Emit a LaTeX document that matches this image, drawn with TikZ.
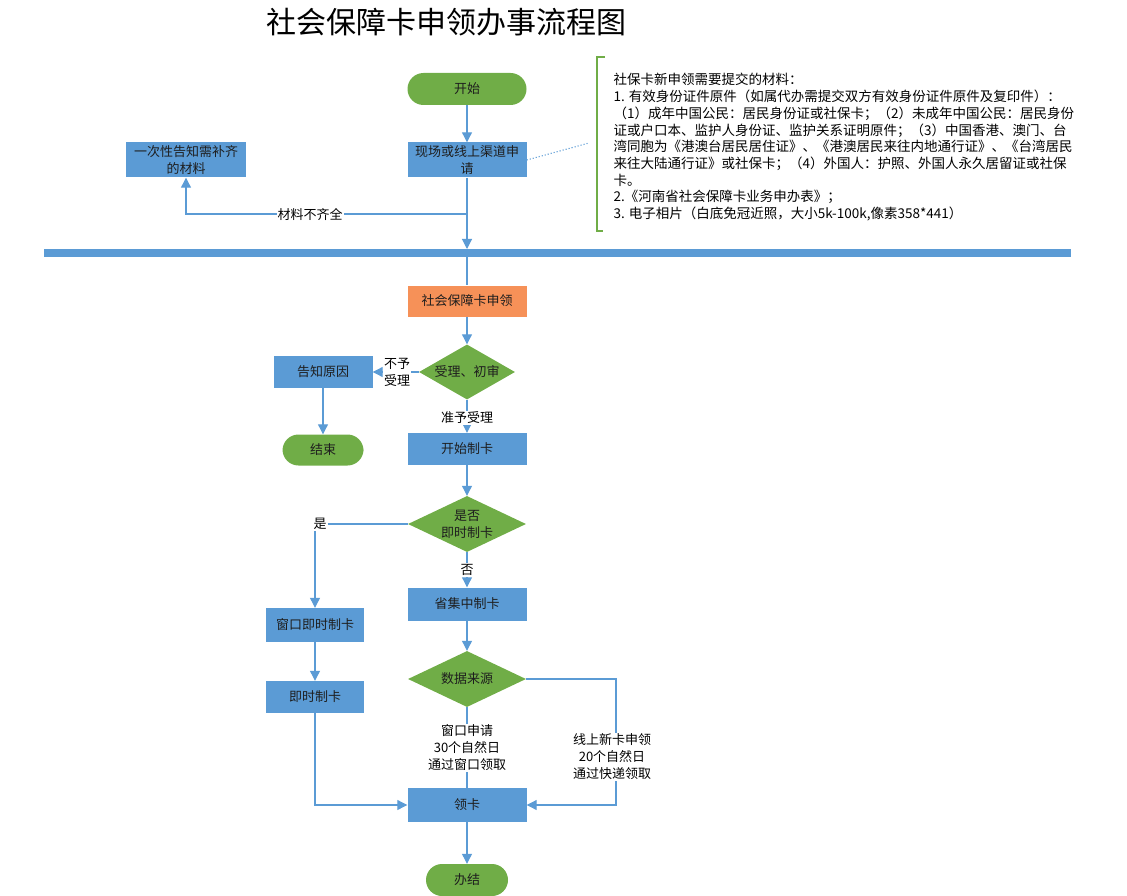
\documentclass[tikz,border=0pt]{standalone}
\usepackage{xcolor}
\usepackage{fontspec}
\usepackage{tikz}
\usetikzlibrary{shapes.geometric,arrows.meta}
\setmainfont{Noto Sans CJK SC}
\definecolor{boxblue}{RGB}{91,155,213}
\definecolor{boxgreen}{RGB}{112,173,71}
\definecolor{boxorange}{RGB}{246,145,88}
\definecolor{inktext}{RGB}{30,30,30}

\begin{document}
\begin{tikzpicture}[x=1pt, y=-1pt,
	every node/.style={font=\fontsize{13}{17}\selectfont, text=inktext},
	proc/.style={rectangle, fill=boxblue, minimum width=119pt, minimum height=33pt, inner sep=0pt, align=center},
	term/.style={rectangle, rounded corners=16pt, fill=boxgreen, minimum width=119pt, minimum height=32pt, inner sep=0pt},
	decide/.style={diamond, shape aspect=2, fill=boxgreen, minimum width=118pt, minimum height=56pt, inner sep=0pt, align=center},
	tag/.style={fill=white, inner sep=1pt, align=center, text=black},
	flow/.style={draw=boxblue, line width=1.1pt, -{Triangle[length=10pt,width=10pt]}},
	link/.style={draw=boxblue, line width=1.1pt}]
				\useasboundingbox (0,0) rectangle (1127,896);
				
				\node (title) at (446,22) [font=\fontsize{30}{34}\selectfont, text=black] {社会保障卡申领办事流程图};
				
				\node (start) at (467,89) [term] {开始};
				\node (apply) at (467,160) [proc, minimum height=35pt] {现场或线上渠道申\\请};
				\node (notify) at (186,160) [proc, minimum width=120pt, minimum height=35pt] {一次性告知需补齐\\的材料};
				\coordinate (split) at (467,214);
				\coordinate (barin) at (467,249);
				\coordinate (barout) at (467,257);
				
				\draw[boxblue, line width=8pt] (44,253) -- (1071,253);
				
				\draw[flow] (start) -- (apply);
				\draw[link] (apply) -- (split);
				\draw[flow] (split) -| (notify.south);
				\node (short) at (310,214) [tag] {材料不齐全};
				\draw[flow] (split) -- (barin);
				
				\draw[boxgreen, line width=1.1pt] (605,57) -- (597,57) -- (597,231) -- (603,231);
				\coordinate (notesin) at (589,143);
				\draw[boxblue, dotted, line width=1.1pt] (apply.east) -- (notesin);
				\node (notes) at (610,70) [anchor=north west, align=left, text=black, font=\fontsize{13.5}{16.7}\selectfont] {社保卡新申领需要提交的材料：\\
1. 有效身份证件原件（如属代办需提交双方有效身份证件原件及复印件）：\\
（1）成年中国公民：居民身份证或社保卡；（2）未成年中国公民：居民身份\\
证或户口本、监护人身份证、监护关系证明原件；（3）中国香港、澳门、台\\
湾同胞为《港澳台居民居住证》、《港澳居民来往内地通行证》、《台湾居民\\
来往大陆通行证》或社保卡；（4）外国人：护照、外国人永久居留证或社保\\
卡。\\
2.《河南省社会保障卡业务申办表》；\\
3. 电子相片（白底免冠近照，大小5k-100k,像素358*441）};
				
				\node (issue) at (467,301) [proc, fill=boxorange, minimum height=31pt] {社会保障卡申领};
				\node (review) at (467,372) [decide, minimum width=96pt, minimum height=55pt] {受理、初审};
				\node (reason) at (323,372) [proc, minimum width=99pt, minimum height=32pt] {告知原因};
				\node (stop) at (323,450) [term, minimum width=81pt, minimum height=31pt] {结束};
				\node (make) at (467,449) [proc, minimum height=32pt] {开始制卡};
				\node (instant) at (467,524) [decide] {是否\\即时制卡};
				\node (central) at (467,604) [proc] {省集中制卡};
				\node (window) at (315,625) [proc, minimum width=98pt, minimum height=34pt] {窗口即时制卡};
				\node (quick) at (315,697) [proc, minimum width=98pt, minimum height=32pt] {即时制卡};
				\node (source) at (467,679) [decide] {数据来源};
				\node (collect) at (467,805) [proc, minimum height=34pt] {领卡};
				\node (done) at (467,880) [term, minimum width=82pt, minimum height=32pt] {办结};
				\coordinate (online) at (616,805);
				
				\draw[link] (barout) -- (issue);
				\foreach \a/\b in {issue/review, review/reason, reason/stop, review/make, make/instant, instant/central, window/quick, central/source, collect/done} {
					\draw[flow] (\a) -- (\b);
				}
				\draw[flow] (instant.west) -| (window.north);
				\draw[flow] (quick.south) |- (collect.west);
				\draw[flow] (source.east) -| (online) -- (collect.east);
				\draw[link] (source.south) -- (collect.north);
				
				\node (refuse) at (397,372) [tag] {不予\\受理};
				\node (accept) at (467,418) [tag] {准予受理};
				\node (yes) at (320,524) [tag] {是};
				\node (no) at (467,570) [tag] {否};
				\node (bywindow) at (467,748) [tag] {窗口申请\\30个自然日\\通过窗口领取};
				\node (bypost) at (612,757) [tag] {线上新卡申领\\20个自然日\\通过快递领取};
			\end{tikzpicture}
\end{document}
